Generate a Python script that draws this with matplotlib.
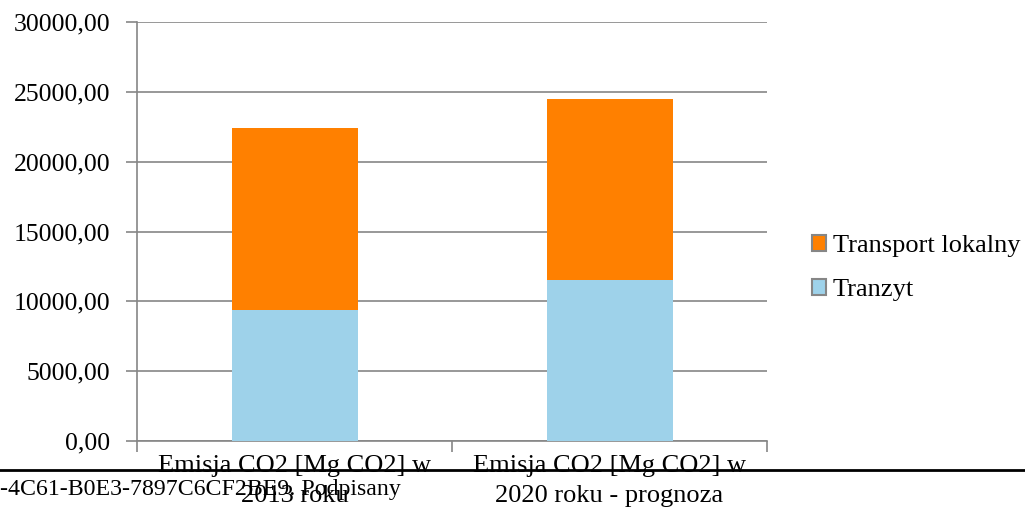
import numpy as np
import matplotlib.pyplot as plt
from matplotlib.lines import Line2D
from matplotlib.ticker import FuncFormatter

plt.rcParams['font.family'] = ['Liberation Serif', 'DejaVu Serif']

# emissions per category (Mg CO2)
categories = ['Emisja CO2 [Mg CO2] w\n2013 roku',
              'Emisja CO2 [Mg CO2] w\n2020 roku - prognoza']
tranzyt = [9400, 11550]
transport_lokalny = [13030, 12915]
yticks = [0, 5000, 10000, 15000, 20000, 25000, 30000]

grey = '#868686'
blue = '#9ED2EA'
orange = '#FF8000'

fig = plt.figure(figsize=(10.25, 5.17), dpi=100)
ax = fig.add_axes([137 / 1025, 76 / 517, 630 / 1025, 419 / 517])

x = np.arange(len(categories))
ax.bar(x, tranzyt, width=0.4, color=blue, label='Tranzyt', zorder=3)
ax.bar(x, transport_lokalny, width=0.4, bottom=tranzyt, color=orange,
       label='Transport lokalny', zorder=3)

ax.set_xlim(-0.5, len(categories) - 0.5)
ax.set_ylim(0, 30000)
ax.set_yticks(yticks)
ax.yaxis.set_major_formatter(FuncFormatter(lambda v, p: f'{v:.2f}'.replace('.', ',')))
ax.yaxis.grid(True, color=grey, linewidth=1.2, zorder=0)

ax.set_xticks(x)
ax.set_xticklabels(categories, fontsize=19, linespacing=1.45)
ax.set_xticks(np.arange(len(categories) + 1) - 0.5, minor=True)
ax.tick_params(axis='x', which='major', length=0, pad=10)
ax.tick_params(axis='x', which='minor', length=8, width=1.2, color=grey)
ax.tick_params(axis='y', length=8, width=1.2, color=grey, labelsize=18.5, pad=11)

for s in ['top', 'right']:
    ax.spines[s].set_visible(False)
for s in ['left', 'bottom']:
    ax.spines[s].set_color(grey)
    ax.spines[s].set_linewidth(1.2)

handles, labels = ax.get_legend_handles_labels()
leg = fig.legend(handles[::-1], labels[::-1], loc='center left',
                 bbox_to_anchor=(788 / 1025, 1 - 268 / 517), frameon=False,
                 fontsize=19, handlelength=0.55, handleheight=0.55,
                 handletextpad=0.25, labelspacing=0.82)
for p in leg.get_patches():
    p.set_edgecolor(grey)
    p.set_linewidth(1.5)

# page footer line and signature text running across the chart bottom
fig.add_artist(Line2D([0, 1], [1 - 470 / 517] * 2, transform=fig.transFigure,
                      color='black', linewidth=2))
fig.text(0, 1 - 490 / 517, '-4C61-B0E3-7897C6CF2BE9. Podpisany',
         fontsize=17.2, ha='left', va='center')

fig.savefig('out.png', dpi=100)
